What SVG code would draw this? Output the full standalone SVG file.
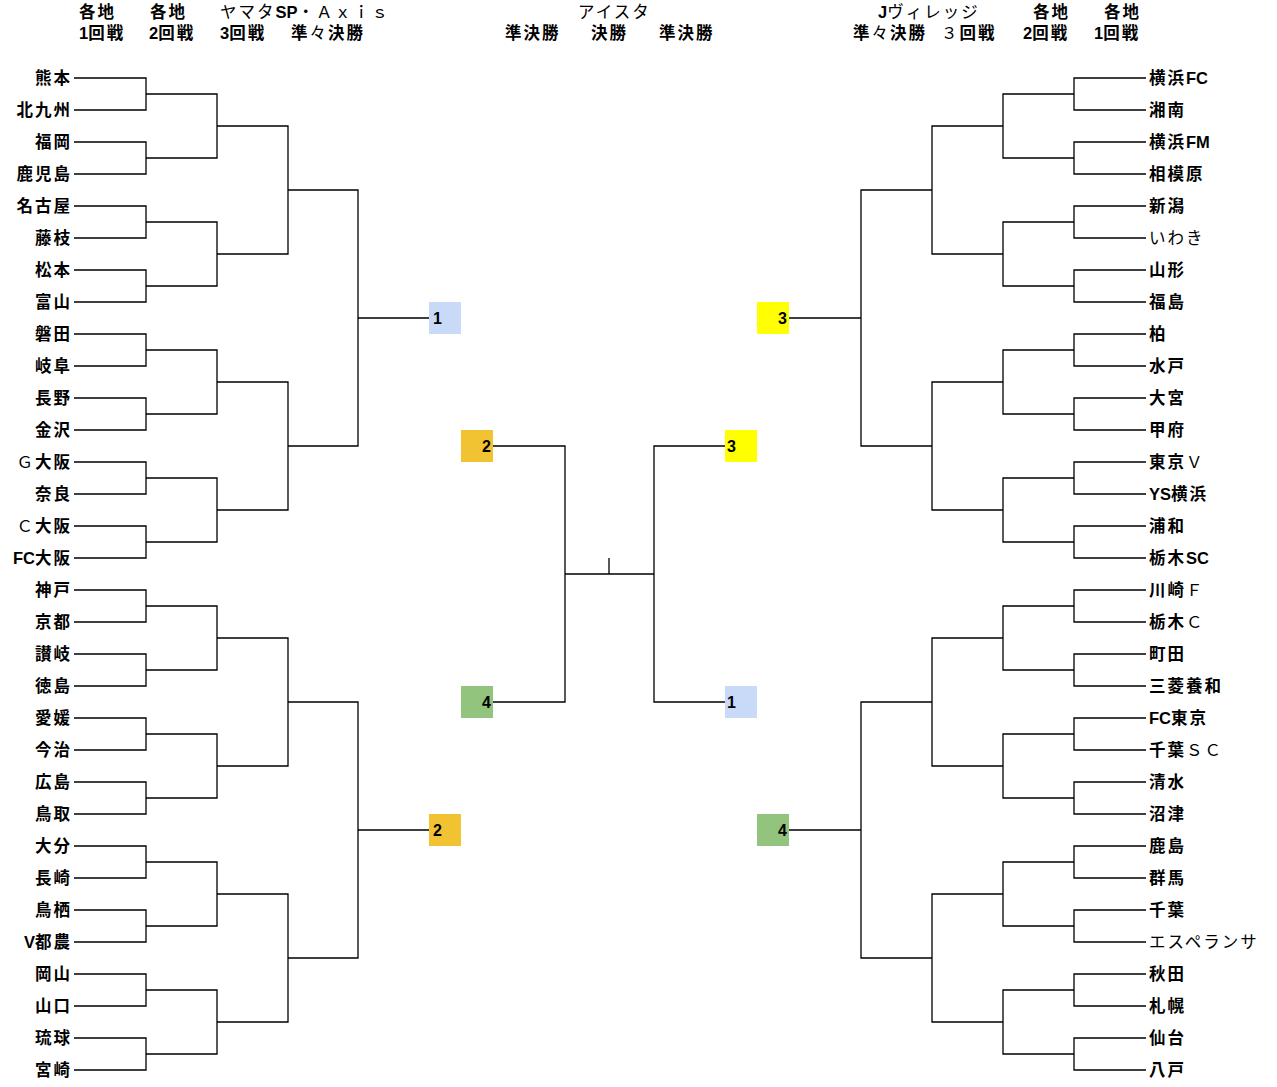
<svg xmlns="http://www.w3.org/2000/svg" width="1277" height="1087" viewBox="0 0 1277 1087">
<style>
text{font-family:"Liberation Sans","Noto Sans CJK JP",sans-serif;font-size:16.5px;font-weight:bold;fill:#000}
.t{letter-spacing:2px}
.a{letter-spacing:0}
.l{text-anchor:end}
.n{font-weight:normal}
.c{fill:none;stroke:#000;stroke-width:1.3}
.b{font-size:16px}
</style>
<rect width="1277" height="1087" fill="#fff"/>
<g id="headers">
<text x="79" y="18" class="t">各地</text>
<text x="150" y="18" class="t">各地</text>
<text x="220" y="18" class="t"><tspan class="n">ヤマタ</tspan><tspan class="a">SP</tspan><tspan class="n">・Ａｘｉｓ</tspan></text>
<text x="79" y="39" class="t"><tspan class="a">1</tspan>回戦</text>
<text x="149" y="39" class="t"><tspan class="a">2</tspan>回戦</text>
<text x="220" y="39" class="t"><tspan class="a">3</tspan>回戦</text>
<text x="291" y="39" class="t">準<tspan class="n">々</tspan>決勝</text>
<text x="578" y="18" class="t n">アイスタ</text>
<text x="505" y="39" class="t">準決勝</text>
<text x="591" y="39" class="t">決勝</text>
<text x="659" y="39" class="t">準決勝</text>
<text x="878" y="18" class="t"><tspan class="a">J</tspan><tspan class="n">ヴィレッジ</tspan></text>
<text x="1033" y="18" class="t">各地</text>
<text x="1104" y="18" class="t">各地</text>
<text x="853" y="39" class="t">準<tspan class="n">々</tspan>決勝</text>
<text x="941" y="39" class="t"><tspan class="n">３</tspan>回戦</text>
<text x="1023" y="39" class="t"><tspan class="a">2</tspan>回戦</text>
<text x="1094" y="39" class="t"><tspan class="a">1</tspan>回戦</text>
</g>
<g id="connectors">
<path class="c" d="M74,78H146V110H74M74,142H146V174H74M74,206H146V238H74M74,270H146V302H74M74,334H146V366H74M74,398H146V430H74M74,462H146V494H74M74,526H146V558H74M74,590H146V622H74M74,654H146V686H74M74,718H146V750H74M74,782H146V814H74M74,846H146V878H74M74,910H146V942H74M74,974H146V1006H74M74,1038H146V1070H74"/>
<path class="c" d="M146,94H217V158H146M146,222H217V286H146M146,350H217V414H146M146,478H217V542H146M146,606H217V670H146M146,734H217V798H146M146,862H217V926H146M146,990H217V1054H146"/>
<path class="c" d="M217,126H288V254H217M217,382H288V510H217M217,638H288V766H217M217,894H288V1022H217"/>
<path class="c" d="M288,190H358V446H288M288,702H358V958H288M358,318H429M358,830H429"/>
<path class="c" d="M1146,78H1074V110H1146M1146,142H1074V174H1146M1146,206H1074V238H1146M1146,270H1074V302H1146M1146,334H1074V366H1146M1146,398H1074V430H1146M1146,462H1074V494H1146M1146,526H1074V558H1146M1146,590H1074V622H1146M1146,654H1074V686H1146M1146,718H1074V750H1146M1146,782H1074V814H1146M1146,846H1074V878H1146M1146,910H1074V942H1146M1146,974H1074V1006H1146M1146,1038H1074V1070H1146"/>
<path class="c" d="M1074,94H1003V158H1074M1074,222H1003V286H1074M1074,350H1003V414H1074M1074,478H1003V542H1074M1074,606H1003V670H1074M1074,734H1003V798H1074M1074,862H1003V926H1074M1074,990H1003V1054H1074"/>
<path class="c" d="M1003,126H932V254H1003M1003,382H932V510H1003M1003,638H932V766H1003M1003,894H932V1022H1003"/>
<path class="c" d="M932,190H861V446H932M932,702H861V958H932M861,318H789M861,830H789"/>
<path class="c" d="M493,446H565V702H493M565,574H654M609,574V558M757,446H654V702H757"/>
</g>
<g id="box-l1"><rect x="429" y="302" width="32" height="32" fill="#c9daf8"/><text x="433" y="324" class="b">1</text></g>
<g id="box-l2"><rect x="429" y="814" width="32" height="32" fill="#f1c232"/><text x="433" y="836" class="b">2</text></g>
<g id="box-r3"><rect x="757" y="302" width="32" height="32" fill="#ffff00"/><text x="787" y="324" class="b l">3</text></g>
<g id="box-r4"><rect x="757" y="814" width="32" height="32" fill="#93c47d"/><text x="787" y="836" class="b l">4</text></g>
<g id="box-c2"><rect x="461" y="430" width="32" height="32" fill="#f1c232"/><text x="491" y="452" class="b l">2</text></g>
<g id="box-c4"><rect x="461" y="686" width="32" height="32" fill="#93c47d"/><text x="491" y="708" class="b l">4</text></g>
<g id="box-c3"><rect x="725" y="430" width="32" height="32" fill="#ffff00"/><text x="727" y="452" class="b">3</text></g>
<g id="box-c1"><rect x="725" y="686" width="32" height="32" fill="#c9daf8"/><text x="727" y="708" class="b">1</text></g>
<g id="teams-left">
<text x="72" y="84" class="t l">熊本</text>
<text x="72" y="116" class="t l">北九州</text>
<text x="72" y="148" class="t l">福岡</text>
<text x="72" y="180" class="t l">鹿児島</text>
<text x="72" y="212" class="t l">名古屋</text>
<text x="72" y="244" class="t l">藤枝</text>
<text x="72" y="276" class="t l">松本</text>
<text x="72" y="308" class="t l">富山</text>
<text x="72" y="340" class="t l">磐田</text>
<text x="72" y="372" class="t l">岐阜</text>
<text x="72" y="404" class="t l">長野</text>
<text x="72" y="436" class="t l">金沢</text>
<text x="72" y="468" class="t l"><tspan class="n">Ｇ</tspan>大阪</text>
<text x="72" y="500" class="t l">奈良</text>
<text x="72" y="532" class="t l"><tspan class="n">Ｃ</tspan>大阪</text>
<text x="72" y="564" class="t l"><tspan class="a">FC</tspan>大阪</text>
<text x="72" y="596" class="t l">神戸</text>
<text x="72" y="628" class="t l">京都</text>
<text x="72" y="660" class="t l">讃岐</text>
<text x="72" y="692" class="t l">徳島</text>
<text x="72" y="724" class="t l">愛媛</text>
<text x="72" y="756" class="t l">今治</text>
<text x="72" y="788" class="t l">広島</text>
<text x="72" y="820" class="t l">鳥取</text>
<text x="72" y="852" class="t l">大分</text>
<text x="72" y="884" class="t l">長崎</text>
<text x="72" y="916" class="t l">鳥栖</text>
<text x="72" y="948" class="t l"><tspan class="a">V</tspan>都農</text>
<text x="72" y="980" class="t l">岡山</text>
<text x="72" y="1012" class="t l">山口</text>
<text x="72" y="1044" class="t l">琉球</text>
<text x="72" y="1076" class="t l">宮崎</text>
</g>
<g id="teams-right">
<text x="1149" y="84" class="t">横浜<tspan class="a">FC</tspan></text>
<text x="1149" y="116" class="t">湘南</text>
<text x="1149" y="148" class="t">横浜<tspan class="a">FM</tspan></text>
<text x="1149" y="180" class="t">相模原</text>
<text x="1149" y="212" class="t">新潟</text>
<text x="1149" y="244" class="t n">いわき</text>
<text x="1149" y="276" class="t">山形</text>
<text x="1149" y="308" class="t">福島</text>
<text x="1149" y="340" class="t">柏</text>
<text x="1149" y="372" class="t">水戸</text>
<text x="1149" y="404" class="t">大宮</text>
<text x="1149" y="436" class="t">甲府</text>
<text x="1149" y="468" class="t">東京<tspan class="n">Ｖ</tspan></text>
<text x="1149" y="500" class="t"><tspan class="a">YS</tspan>横浜</text>
<text x="1149" y="532" class="t">浦和</text>
<text x="1149" y="564" class="t">栃木<tspan class="a">SC</tspan></text>
<text x="1149" y="596" class="t">川崎<tspan class="n">Ｆ</tspan></text>
<text x="1149" y="628" class="t">栃木<tspan class="n">Ｃ</tspan></text>
<text x="1149" y="660" class="t">町田</text>
<text x="1149" y="692" class="t">三菱養和</text>
<text x="1149" y="724" class="t"><tspan class="a">FC</tspan>東京</text>
<text x="1149" y="756" class="t">千葉<tspan class="n">ＳＣ</tspan></text>
<text x="1149" y="788" class="t">清水</text>
<text x="1149" y="820" class="t">沼津</text>
<text x="1149" y="852" class="t">鹿島</text>
<text x="1149" y="884" class="t">群馬</text>
<text x="1149" y="916" class="t">千葉</text>
<text x="1149" y="948" class="t n">エスペランサ</text>
<text x="1149" y="980" class="t">秋田</text>
<text x="1149" y="1012" class="t">札幌</text>
<text x="1149" y="1044" class="t">仙台</text>
<text x="1149" y="1076" class="t">八戸</text>
</g>
</svg>
